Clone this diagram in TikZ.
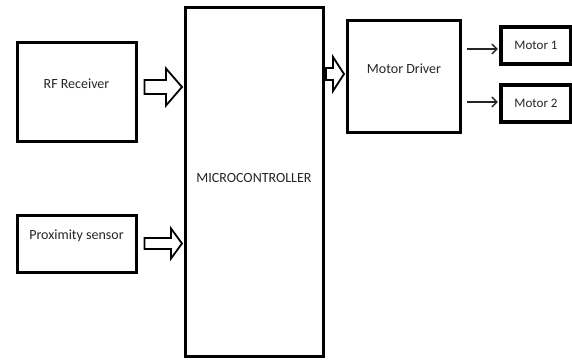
\documentclass[tikz,border=0pt]{standalone}
\usepackage{fontspec}
\setmainfont{Carlito}
\usetikzlibrary{calc,arrows.meta}
\newcommand\hollowarrow[5]{%
  \draw[hollow] ($(#1)+(0,-#3)$) -- ($(#2)+(-#5,-#3)$) -- ($(#2)+(-#5,-#4)$) -- (#2)
    -- ($(#2)+(-#5,#4)$) -- ($(#2)+(-#5,#3)$) -- ($(#1)+(0,#3)$) -- cycle;}
\begin{document}
\begin{tikzpicture}[x=1pt,y=-1pt,
  blk/.style={draw=black,line width=3pt,fill=white,inner sep=0pt},
  mblk/.style={draw=black,line width=3.5pt,fill=white,inner sep=0pt,
    font=\fontsize{13}{15}\selectfont,text=black!85},
  lbl/.style={font=\fontsize{14}{16}\selectfont,text=black!85,inner sep=0pt},
  hollow/.style={draw=black,line width=1.8pt,fill=white,line join=miter},
  conn/.style={draw=black!85,line width=1.3pt,shorten >=1.5pt,
    -{Straight Barb[length=5pt,width=10pt]}}]
\useasboundingbox (0,0) rectangle (572,360);
% boxes
\node[blk,minimum width=119pt,minimum height=99pt] (rf) at (76.5,91.5) {};
\node[blk,minimum width=119pt,minimum height=57pt] (prox) at (76.5,243.5) {};
\node[blk,minimum width=138pt,minimum height=349pt] (mcu) at (254,181.5) {};
\node[blk,minimum width=113pt,minimum height=112pt] (md) at (403.5,76) {};
% labels
\node[lbl] (rft) at (76.5,84) {RF Receiver};
\node[lbl] (proxt) at (76.5,236) {Proximity sensor};
\node[lbl] (mcut) at (254,178) {MICROCONTROLLER};
\node[lbl] (mdt) at (404,69) {Motor Driver};
% thin connectors to motors
\coordinate (t1s) at ($(md.east)+(5,-27)$);
\coordinate (t2s) at ($(md.east)+(5,26)$);
\node[mblk,minimum width=70pt,minimum height=37pt] (m1) at (536,45.5) {Motor 1};
\node[mblk,minimum width=70pt,minimum height=37pt] (m2) at (536,103.5) {Motor 2};
\draw[conn] (t1s) -- (m1.west |- t1s);
\draw[conn] (t2s) -- (m2.west |- t2s);
% hollow block arrows
\coordinate (a1s) at ($(rf.east)+(7,-4.5)$);
\coordinate (a1t) at ($(mcu.west |- a1s)+(-1.5,0)$);
\hollowarrow{a1s}{a1t}{7}{18.5}{16}
\coordinate (a2s) at ($(prox.east)+(7,0)$);
\coordinate (a2t) at ($(mcu.west |- a2s)+(-1.5,0)$);
\hollowarrow{a2s}{a2t}{5.5}{15}{11}
\coordinate (a3s) at ($(mcu.east)+(1.5,-107.5)$);
\coordinate (a3t) at ($(md.west |- a3s)+(-1.5,0)$);
\hollowarrow{a3s}{a3t}{6}{17}{11}
\end{tikzpicture}
\end{document}
